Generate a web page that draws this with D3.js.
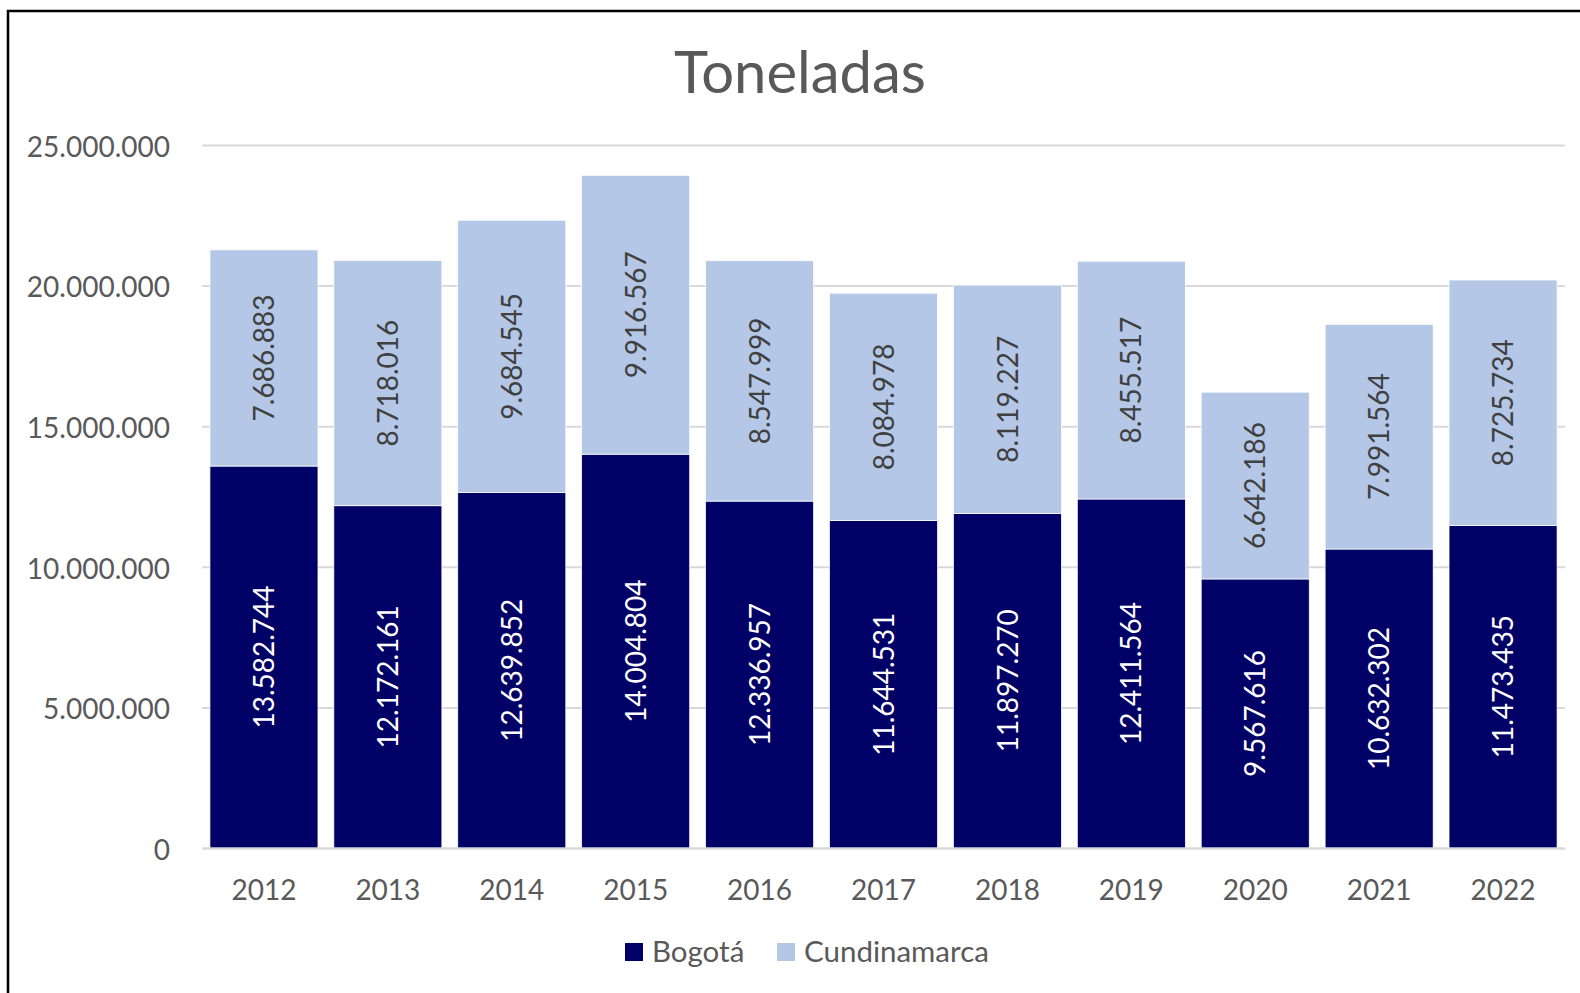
<!DOCTYPE html>
<html lang="es">
<head>
<meta charset="utf-8">
<title>Toneladas</title>
<script src="https://cdn.jsdelivr.net/npm/d3@7"></script>
<style>
  body { margin: 0; background: #fff; }
  svg text { font-family: Lato, "Noto Sans", sans-serif; }
</style>
</head>
<body>
<svg id="chart" width="1580" height="993"></svg>
<script>
// data
var years = ['2012','2013','2014','2015','2016','2017','2018','2019','2020','2021','2022'];
var bogota = [13582744, 12172161, 12639852, 14004804, 12336957, 11644531, 11897270, 12411564, 9567616, 10632302, 11473435];
var cundinamarca = [7686883, 8718016, 9684545, 9916567, 8547999, 8084978, 8119227, 8455517, 6642186, 7991564, 8725734];
var seriesNames = ['Bogotá', 'Cundinamarca'];
var yTicks = [0, 5000000, 10000000, 15000000, 20000000, 25000000];

var colors = { 'Bogotá': '#000066', 'Cundinamarca': '#B4C7E7' };
var labelColors = { 'Bogotá': '#ffffff', 'Cundinamarca': '#404040' };

var loc = d3.formatLocale({ decimal: ',', thousands: '.', grouping: [3], currency: ['', ''] });
var fmt = loc.format(',d');

var svg = d3.select('#chart');

// frame (runs off the right and bottom edge like the source)
svg.append('rect')
    .attr('x', 8).attr('y', 11)
    .attr('width', 1600).attr('height', 1000)
    .attr('fill', 'none')
    .attr('stroke', '#000')
    .attr('stroke-width', 2.5);

// plot area (window.top is read-only, so no "top" here)
var plotLeft = 202, plotRight = 1565, plotTop = 145, plotBottom = 848;

var x = d3.scaleBand()
    .domain(years)
    .range([plotLeft, plotRight])
    .paddingInner(0.128)
    .paddingOuter(0.064);

var y = d3.scaleLinear()
    .domain([0, 25000000])
    .range([plotBottom, plotTop]);

// title
svg.append('text')
    .attr('x', 800).attr('y', 93)
    .attr('text-anchor', 'middle')
    .attr('font-size', 58)
    .attr('fill', '#595959')
    .text('Toneladas');

// y axis + gridlines
var yAxis = svg.append('g')
    .attr('transform', 'translate(' + plotLeft + ',0)')
    .call(d3.axisLeft(y).tickValues(yTicks).tickFormat(fmt)
        .tickSize(-(plotRight - plotLeft)).tickPadding(32));
yAxis.select('.domain').remove();
yAxis.selectAll('line').attr('stroke', '#D9D9D9').attr('stroke-width', 2);
yAxis.selectAll('text').attr('font-size', 28).attr('fill', '#595959').attr('dy', '0.4em');

// stacked bars
var rows = years.map(function(yr, i) {
    return { year: yr, 'Bogotá': bogota[i], 'Cundinamarca': cundinamarca[i] };
});
var stack = d3.stack().keys(seriesNames)(rows);

var layers = svg.selectAll('g.layer')
    .data(stack)
    .enter().append('g')
    .attr('class', 'layer');

layers.selectAll('rect')
    .data(function(d) { return d.map(function(v) { v.key = d.key; return v; }); })
    .enter().append('rect')
    .attr('x', function(d) { return x(d.data.year); })
    .attr('y', function(d) { return y(d[1]); })
    .attr('width', x.bandwidth())
    .attr('height', function(d) { return y(d[0]) - y(d[1]); })
    .attr('fill', function(d) { return colors[d.key]; })
    .attr('stroke', '#fff')
    .attr('stroke-width', 0.75);

// x axis
var xAxis = svg.append('g')
    .attr('transform', 'translate(0,' + plotBottom + ')')
    .call(d3.axisBottom(x).tickSize(0).tickPadding(32));
xAxis.select('.domain').attr('stroke', '#D9D9D9').attr('stroke-width', 2);
xAxis.selectAll('text').attr('font-size', 28).attr('fill', '#595959');

// value labels, rotated
layers.selectAll('text')
    .data(function(d) { return d.map(function(v) { v.key = d.key; return v; }); })
    .enter().append('text')
    .attr('transform', function(d) {
        var cx = x(d.data.year) + x.bandwidth() / 2;
        var cy = (y(d[0]) + y(d[1])) / 2;
        return 'translate(' + cx + ',' + cy + ') rotate(-90)';
    })
    .attr('text-anchor', 'middle')
    .attr('dy', '0.36em')
    .attr('font-size', 28)
    .attr('fill', function(d) { return labelColors[d.key]; })
    .text(function(d) { return fmt(d[1] - d[0]); });

// legend
var legend = svg.append('g');
var legendX = [625, 777];
seriesNames.forEach(function(name, i) {
    legend.append('rect')
        .attr('x', legendX[i]).attr('y', 943)
        .attr('width', 18).attr('height', 18)
        .attr('fill', colors[name]);
    legend.append('text')
        .attr('x', legendX[i] + 27).attr('y', 962)
        .attr('font-size', 29.5)
        .attr('fill', '#595959')
        .text(name);
});
</script>
</body>
</html>
